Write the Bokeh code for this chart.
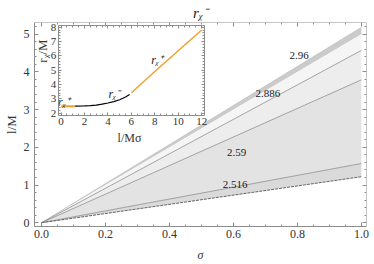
import math
from bokeh.plotting import figure
from bokeh.models import (Range1d, LinearAxis, SingleIntervalTicker,
                          NumeralTickFormatter)
from bokeh.core.properties import value
from bokeh.embed import file_html
from bokeh.resources import INLINE

# ---------------- data ----------------
# main plot: region boundaries (straight rays from the origin), l/M vs sigma
sigma = [0.0, 1.0]
edge_top = [0.0, 5.18]
edge_band = [0.0, 5.00]
contour_2886 = [0.0, 4.57]
contour_mid = [0.0, 3.79]
contour_2516 = [0.0, 1.57]
edge_bottom = [0.0, 1.22]

contour_label_text = ["2.96", "2.886", "2.59", "2.516"]
contour_label_sigma = [0.805, 0.708, 0.610, 0.605]
contour_label_l = [4.44, 3.44, 1.87, 1.02]

# inset: r_chi/M vs l/(M sigma)
inset_plus1_x = [0.0, 0.6, 1.2]
inset_plus1_y = [2.48, 2.48, 2.48]
inset_minus_x = [1.2, 2.0, 2.5, 3.0, 3.5, 4.0, 4.5, 5.0, 5.5, 5.85]
inset_minus_y = [2.48, 2.50, 2.52, 2.56, 2.62, 2.70, 2.80, 2.93, 3.12, 3.30]
inset_plus2_x = [6.0, 8.0, 10.0, 12.0]
inset_plus2_y = [3.42, 4.90, 6.35, 7.80]

inset_label_text = ["r\u1D6A\u207A", "r\u1D6A\u207B", "r\u1D6A\u207A"]
inset_label_x = [0.25, 4.55, 8.2]
inset_label_y = [2.74, 3.34, 5.70]

# ---------------- layout / style ----------------
FONT = "Liberation Serif"
W, H = 374, 264
AX_COL = "#8c8c8c"
TXT_COL = "#333333"

XR = (-0.022, 1.016)
YR = (-0.10, 5.31)
MAIN_PX = dict(left=31, right=366, top=22, bottom=229)      # page pixels
INSET_PX = dict(left=55, right=202.5, top=25, bottom=116.5)  # page pixels
IX = (-0.24, 12.24)
IY = (1.82, 8.12)

sxp = (IX[1] - IX[0]) / (INSET_PX["right"] - INSET_PX["left"])
syp = (IY[1] - IY[0]) / (INSET_PX["bottom"] - INSET_PX["top"])
ix_start = IX[0] - (INSET_PX["left"] - MAIN_PX["left"]) * sxp
ix_end = IX[1] + (MAIN_PX["right"] - INSET_PX["right"]) * sxp
iy_start = IY[0] - (MAIN_PX["bottom"] - INSET_PX["bottom"]) * syp
iy_end = IY[1] + (INSET_PX["top"] - MAIN_PX["top"]) * syp

p = figure(width=W, height=H, output_backend="svg", toolbar_location=None,
           x_range=Range1d(*XR), y_range=Range1d(*YR),
           min_border_left=MAIN_PX["left"], min_border_right=W - MAIN_PX["right"],
           min_border_top=MAIN_PX["top"], min_border_bottom=H - MAIN_PX["bottom"])
p.extra_x_ranges = {"ix": Range1d(ix_start, ix_end)}
p.extra_y_ranges = {"iy": Range1d(iy_start, iy_end)}
p.grid.visible = False
p.outline_line_color = None
p.background_fill_color = "white"
p.border_fill_color = "white"

p.title.text = "r\u1D6A\u207B"
p.title.align = "center"
p.title.text_font = FONT
p.title.text_font_style = "italic"
p.title.text_font_size = "15px"
p.title.text_color = "#222222"
p.title.text_line_height = 1.0
p.title.standoff = 3
p.title.offset = -4


def style_axis(ax, labels=True, size="12px", standoff=4, major=4, minor=2):
    ax.axis_line_color = AX_COL
    ax.axis_line_width = 1
    ax.major_tick_line_color = AX_COL
    ax.minor_tick_line_color = AX_COL
    ax.major_tick_in = major
    ax.major_tick_out = 0
    ax.minor_tick_in = minor
    ax.minor_tick_out = 0
    ax.major_label_text_font = FONT
    ax.major_label_text_font_size = size
    ax.major_label_text_color = TXT_COL if labels else None
    ax.major_label_standoff = standoff


# main axes
xax = p.below[0]
xax.ticker = SingleIntervalTicker(interval=0.2, num_minor_ticks=4)
xax.formatter = NumeralTickFormatter(format="0.0")
style_axis(xax, standoff=3)
xax.axis_label = "\u03C3"
xax.axis_label_text_font = FONT
xax.axis_label_text_font_style = "italic"
xax.axis_label_text_font_size = "12px"
xax.axis_label_text_color = TXT_COL
xax.axis_label_standoff = 7

yax = p.left[0]
yax.ticker = SingleIntervalTicker(interval=1, num_minor_ticks=5)
style_axis(yax, standoff=5)
yax.axis_label = "l/M"
yax.axis_label_text_font = FONT
yax.axis_label_text_font_style = "normal"
yax.axis_label_text_font_size = "13px"
yax.axis_label_text_color = TXT_COL
yax.axis_label_standoff = 2

top_ax = LinearAxis(fixed_location=YR[1],
                    ticker=SingleIntervalTicker(interval=0.2, num_minor_ticks=4))
style_axis(top_ax, labels=False)
p.add_layout(top_ax, "above")
right_ax = LinearAxis(fixed_location=XR[1],
                      ticker=SingleIntervalTicker(interval=1, num_minor_ticks=5))
style_axis(right_ax, labels=False)
p.add_layout(right_ax, "right")

# main fills
fill_specs = [
    (edge_band, edge_top, "#cbcbcb"),
    (contour_2886, edge_band, "#f5f5f5"),
    (contour_mid, contour_2886, "#ededed"),
    (contour_2516, contour_mid, "#e3e3e3"),
    (edge_bottom, contour_2516, "#dadada"),
]
for lo, hi, col in fill_specs:
    p.varea(x=sigma, y1=lo, y2=hi, fill_color=col)

p.line(sigma, edge_top, line_color="#bdbdbd", line_width=0.8)
for c in (contour_2886, contour_mid, contour_2516):
    p.line(sigma, c, line_color="#8f8f8f", line_width=0.8)
p.line(sigma, edge_bottom, line_color="#666666", line_width=1.0, line_dash="3 1")

p.text(x=contour_label_sigma, y=contour_label_l, text=contour_label_text,
       text_font=value(FONT), text_font_size="11px", text_color="#222222",
       text_align="center", text_baseline="middle")

# inset curves
ORANGE = "#f0a030"
p.line(inset_plus1_x, inset_plus1_y, line_color=ORANGE, line_width=2,
       x_range_name="ix", y_range_name="iy")
p.line(inset_minus_x, inset_minus_y, line_color="black", line_width=1.2,
       x_range_name="ix", y_range_name="iy")
p.line(inset_plus2_x, inset_plus2_y, line_color=ORANGE, line_width=1.5,
       x_range_name="ix", y_range_name="iy")
p.text(x=inset_label_x, y=inset_label_y, text=inset_label_text,
       x_range_name="ix", y_range_name="iy",
       text_font=value(FONT), text_font_style="italic", text_font_size="12px",
       text_color="#222222", text_align="center", text_baseline="middle")

# inset axes (fixed inside the main frame)
ib = LinearAxis(x_range_name="ix", y_range_name="iy", fixed_location=IY[0], bounds=IX,
                ticker=SingleIntervalTicker(interval=2, num_minor_ticks=4))
style_axis(ib, size="11px", standoff=2, major=3, minor=2)
p.add_layout(ib, "below")
il = LinearAxis(x_range_name="ix", y_range_name="iy", fixed_location=IX[0], bounds=IY,
                ticker=SingleIntervalTicker(interval=1, num_minor_ticks=5))
style_axis(il, size="11px", standoff=2, major=3, minor=2)
p.add_layout(il, "left")
it = LinearAxis(x_range_name="ix", y_range_name="iy", fixed_location=IY[1], bounds=IX,
                ticker=SingleIntervalTicker(interval=2, num_minor_ticks=4))
style_axis(it, labels=False, major=3, minor=2)
p.add_layout(it, "above")
ir = LinearAxis(x_range_name="ix", y_range_name="iy", fixed_location=IX[1], bounds=IY,
                ticker=SingleIntervalTicker(interval=1, num_minor_ticks=5))
style_axis(ir, labels=False, major=3, minor=2)
p.add_layout(ir, "right")

# inset axis titles
p.text(x=[5.84], y=[0.25], text=["l/M\u03C3"], x_range_name="ix", y_range_name="iy",
       text_font=value(FONT), text_font_size="12px", text_color=TXT_COL,
       text_align="center", text_baseline="middle")
p.text(x=[-1.61], y=[6.33], text=["r\u1D6A/M"], x_range_name="ix", y_range_name="iy",
       angle=math.pi / 2, text_font=value(FONT), text_font_size="13px",
       text_color=TXT_COL, text_align="center", text_baseline="middle")

open("out.html", "w").write(file_html(p, INLINE))
